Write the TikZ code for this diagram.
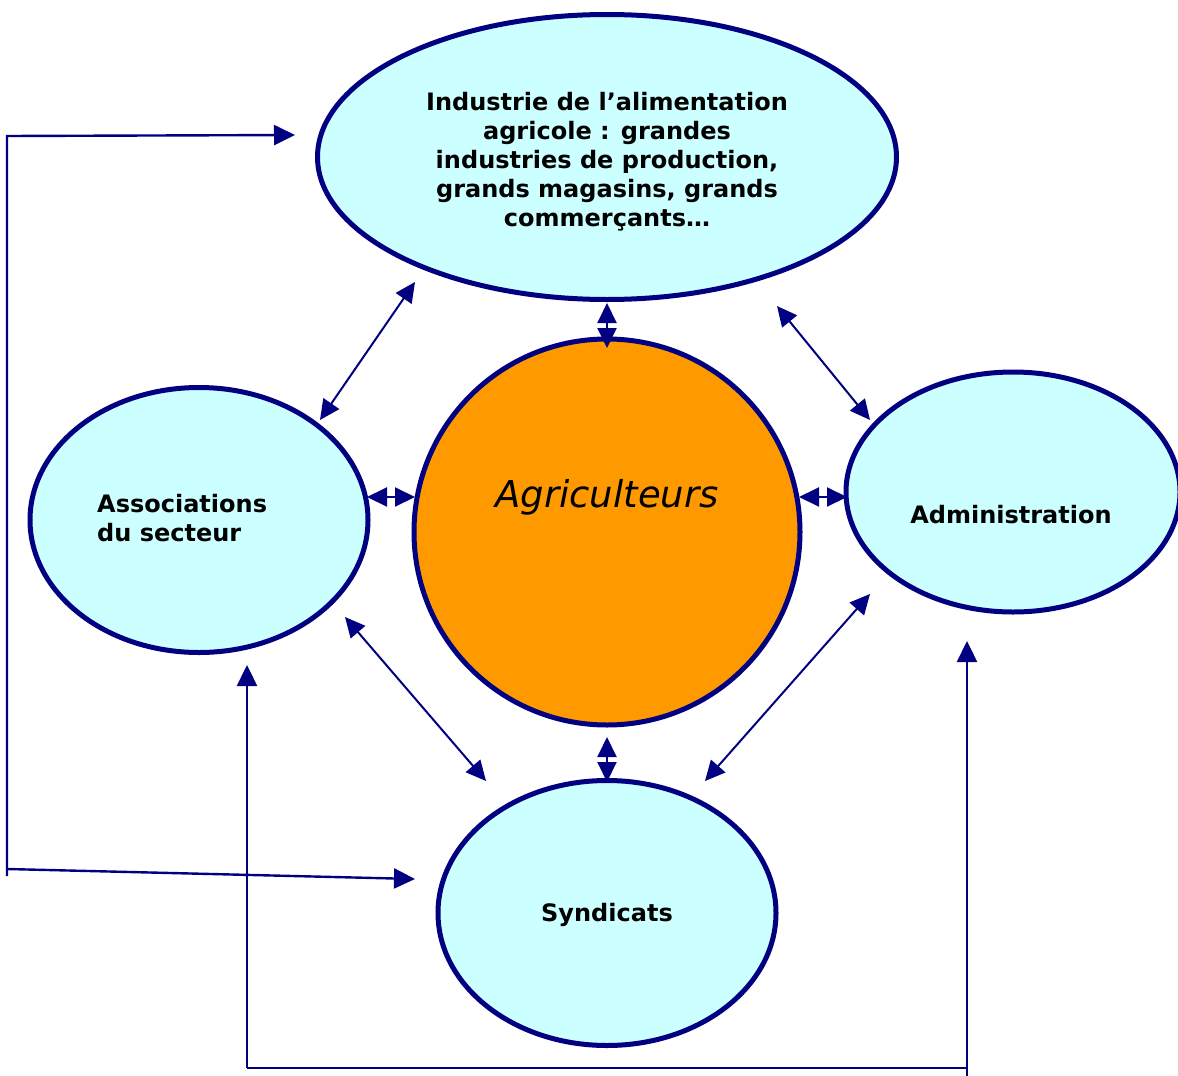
\documentclass[tikz,border=0pt]{standalone}
\usepackage{fontspec}
\setmainfont{DejaVu Sans}
\usetikzlibrary{shapes.geometric,arrows.meta}
\definecolor{navy}{HTML}{000080}
\definecolor{pale}{HTML}{CCFFFF}
\definecolor{agri}{HTML}{FF9900}
\tikzset{
  bub/.style={ellipse, draw=navy, line width=5pt, fill=pale, inner sep=0pt},
  tip/.tip={Triangle[length=20pt,width=19pt]},
  link/.style={draw=navy, line width=2pt, tip-tip},
  feed/.style={draw=navy, line width=2.4pt},
  lbl/.style={font=\bfseries\fontsize{24}{29}\selectfont, inner sep=0pt},
}
\begin{document}
\begin{tikzpicture}[x=1pt,y=-1pt]
\useasboundingbox (0,0) rectangle (1178,1076);
% bubbles
\node[bub, minimum width=579pt, minimum height=285pt] (ind) at (607,157) {};
\node[bub, minimum width=338pt, minimum height=265pt] (ass) at (199,520) {};
\node[bub, minimum width=334pt, minimum height=240pt] (adm) at (1013,492) {};
\node[bub, minimum width=338pt, minimum height=265pt] (syn) at (607,913) {};
\node[circle, draw=navy, line width=5pt, fill=agri, minimum size=386pt, inner sep=0pt] (agr) at (607,532) {};
% texts
\node[lbl, align=center] (tind) at (607,162) {Industrie de l’alimentation\\agricole : grandes\\industries de production,\\grands magasins, grands\\commerçants…};
\node[lbl, align=left, anchor=west] (tass) at (97,518) {Associations\\du secteur};
\node[lbl] (tadm) at (1011,515) {Administration};
\node[lbl] (tsyn) at (607,915) {Syndicats};
\node[font=\itshape\fontsize{37}{44}\selectfont, inner sep=0pt] (tagr) at (607,497) {Agriculteurs};
% arrow end points
\coordinate (a1) at (415,282); \coordinate (a2) at (320,420);
\coordinate (b1) at (777,306); \coordinate (b2) at (870,420);
\coordinate (c1) at (345,617); \coordinate (c2) at (486,781);
\coordinate (d1) at (870,594); \coordinate (d2) at (705,781);
\coordinate (e1) at (367,497); \coordinate (e2) at (415,497);
\coordinate (f1) at (799,497); \coordinate (f2) at (847,497);
\coordinate (g1) at (607,303); \coordinate (g2) at (607,348);
\coordinate (h1) at (607,737); \coordinate (h2) at (607,782);
\draw[link] (a1) -- (a2);
\draw[link] (b1) -- (b2);
\draw[link] (c1) -- (c2);
\draw[link] (d1) -- (d2);
\draw[link] (e1) -- (e2);
\draw[link] (f1) -- (f2);
\draw[link] (g1) -- (g2);
\draw[link] (h1) -- (h2);
% feedback lines
\coordinate (p0) at (7,876); \coordinate (p1) at (7,136); \coordinate (p2) at (295,135);
\coordinate (q0) at (7,869); \coordinate (q1) at (415,879);
\coordinate (r0) at (247,1068); \coordinate (r1) at (247,665);
\coordinate (s0) at (967,1076); \coordinate (s1) at (967,641);
\draw[feed, -{Triangle[length=21pt,width=20pt]}] (p0) -- (p1) -- (p2);
\draw[feed, -{Triangle[length=21pt,width=20pt]}] (q0) -- (q1);
\draw[feed, -{Triangle[length=21pt,width=20pt]}] (r0) -- (r1);
\draw[feed, -{Triangle[length=21pt,width=20pt]}] (s0) -- (s1);
\draw[feed] (r0) -- (967,1068);
\end{tikzpicture}
\end{document}
